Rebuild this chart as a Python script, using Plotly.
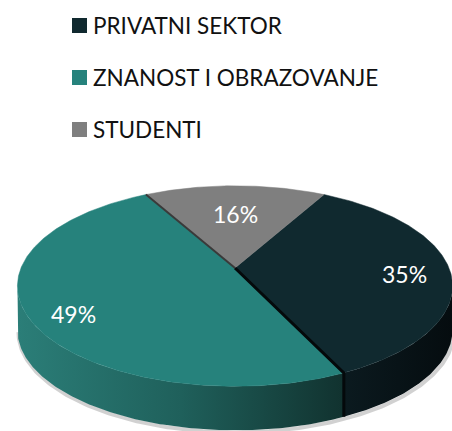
import math
import plotly.graph_objects as go

# Data
categories = ["PRIVATNI SEKTOR", "ZNANOST I OBRAZOVANJE", "STUDENTI"]
shares = [35, 49, 16]
labels = ["35%", "49%", "16%"]

# Styling
top_colors = ["#10292f", "#26827c", "#7f7f7f"]
side_scales = [
    [[0, "#0b1a1f"], [1, "#050c0f"]],
    [[0, "#2b7e78"], [0.5, "#1f605b"], [1, "#11322f"]],
    [[0, "#6a6a6a"], [1, "#4a4a4a"]],
]
FONT = "Lato"
W, H = 452, 431
XC, YC = 235, 268          # pie centre (pixels)
RX, RY = 214, 97           # radii of the top face
PERSP = -0.18              # perspective strength
DEPTH = 44                 # thickness of the pie
FIRST_ANGLE = 28.8         # start angle of the first slice, clockwise from top
LABEL_R = [0.79, 0.79, 0.62]
LABEL_DY = [-4, -9, 0]


def proj(theta_deg, r=1.0, drop=0.0):
    th = math.radians(theta_deg)
    s, t = math.sin(th), -math.cos(th)
    d = 1 + PERSP * r * t
    return XC + RX * r * s / d, YC + RY * r * t / d + drop


def arc(a, b, drop=0.0, n=None):
    n = n or max(4, int(abs(b - a) * 1.5))
    pts = [proj(a + (b - a) * i / n, 1.0, drop) for i in range(n + 1)]
    return [p[0] for p in pts], [p[1] for p in pts]


total = float(sum(shares))
bounds = []
acc = FIRST_ANGLE
for v in shares:
    a = acc
    acc += v / total * 360.0
    bounds.append((a, acc))

# angular range where the side wall faces the viewer
sil = math.degrees(math.acos(PERSP))
vis_a, vis_b = sil, 360 - sil

fig = go.Figure()

# soft shadow under the wall
sx, sy = arc(vis_a, vis_b, DEPTH + 2)
fig.add_trace(go.Scatter(x=[x + 1 for x in sx], y=sy, mode="lines",
                         line=dict(color="rgba(0,0,0,0.18)", width=4),
                         hoverinfo="skip", showlegend=False))

# side walls
for i, (a, b) in enumerate(bounds):
    for off in (0, 360, -360):
        lo, hi = max(a + off, vis_a), min(b + off, vis_b)
        if hi > lo:
            tx, ty = arc(lo, hi)
            bx, by = arc(lo, hi, DEPTH)
            fig.add_trace(go.Scatter(
                x=tx + bx[::-1] + [tx[0]], y=ty + by[::-1] + [ty[0]],
                mode="lines", fill="toself", line=dict(width=0),
                fillgradient=dict(type="horizontal", colorscale=side_scales[i]),
                hoverinfo="skip", showlegend=False))

# top faces
for i, (a, b) in enumerate(bounds):
    ax, ay = arc(a, b)
    fig.add_trace(go.Scatter(
        x=[XC] + ax + [XC], y=[YC] + ay + [YC], mode="lines", fill="toself",
        fillcolor=top_colors[i], line=dict(width=0.5, color=top_colors[i]),
        name=categories[i], hoverinfo="name", showlegend=False))

# visible cut edges
b_teal_dark = bounds[0][1]
ex, ey = proj(b_teal_dark)
fig.add_trace(go.Scatter(x=[XC, ex, ex], y=[YC, ey, ey + DEPTH], mode="lines",
                         line=dict(color="#04090b", width=3),
                         hoverinfo="skip", showlegend=False))
b_teal_gray = bounds[1][1]
gx, gy = proj(b_teal_gray)
fig.add_trace(go.Scatter(x=[XC, gx], y=[YC, gy], mode="lines",
                         line=dict(color="#3a3a3a", width=2),
                         hoverinfo="skip", showlegend=False))

# percentage labels
for i, (a, b) in enumerate(bounds):
    lx, ly = proj((a + b) / 2, LABEL_R[i])
    fig.add_annotation(x=lx, y=ly, text=labels[i], showarrow=False,
                       yshift=LABEL_DY[i],
                       font=dict(family=FONT, size=23, color="white"))

# legend
LEG_X, LEG_Y0, LEG_STEP = 79.5, 25.5, 52
fig.add_trace(go.Scatter(
    x=[LEG_X] * len(categories),
    y=[LEG_Y0 + k * LEG_STEP for k in range(len(categories))],
    mode="markers",
    marker=dict(symbol="square", size=15, color=top_colors, line=dict(width=0)),
    hoverinfo="skip", showlegend=False))
for k, name in enumerate(categories):
    fig.add_annotation(x=LEG_X + 11.5, y=LEG_Y0 + k * LEG_STEP, text=name,
                       showarrow=False, xanchor="left",
                       font=dict(family=FONT, size=22.5, color="#111111"))

fig.update_layout(
    width=W, height=H, margin=dict(l=0, r=0, t=0, b=0),
    paper_bgcolor="white", plot_bgcolor="white",
    xaxis=dict(range=[0, W], visible=False, fixedrange=True),
    yaxis=dict(range=[H, 0], visible=False, fixedrange=True),
    showlegend=False,
)
fig.write_html("out.html")
